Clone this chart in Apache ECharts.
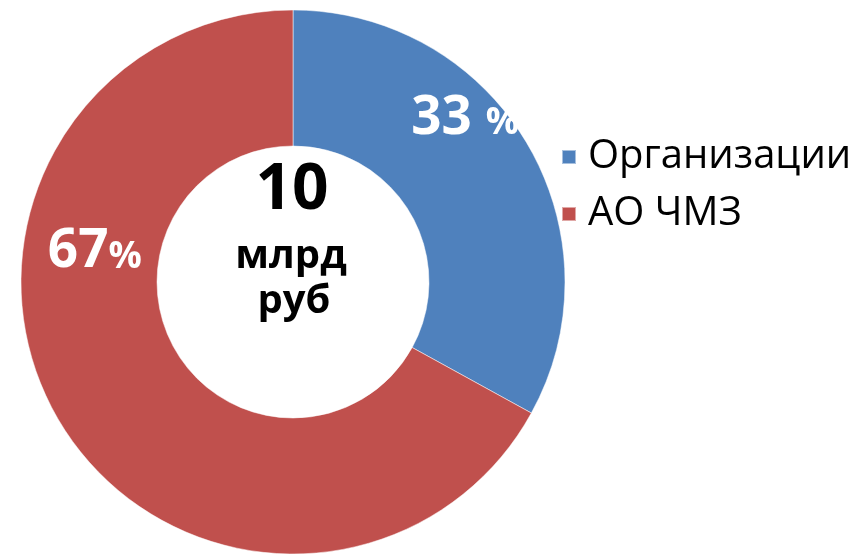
<!DOCTYPE html>
<html>
<head>
<meta charset="utf-8">
<script src="https://cdn.jsdelivr.net/npm/echarts@6/dist/echarts.min.js"></script>
<style>
  html, body { margin: 0; padding: 0; background: #fff; }
  #chart { width: 855px; height: 557px; }
</style>
</head>
<body>
<div id="chart"></div>
<script>
// данные
const categories = ['Организации', 'АО ЧМЗ']
const values = [33, 67]
const labelTexts = ['33 %', '67%']
const colors = ['#4F81BD', '#C0504D']
const centerLines = ['10', 'млрд', 'руб']

const chart = echarts.init(document.getElementById('chart'))

// подписи вручную смещены, как в оригинале
const labelOffsets = [[-6, -58], [-20, -135]]

const option = {
  animation: false,
  textStyle: { fontFamily: 'Open Sans' },
  legend: {
    orient: 'vertical',
    left: 556,
    top: 132,
    itemWidth: 14,
    itemHeight: 14,
    itemGap: 17,
    icon: 'rect',
    data: categories,
    textStyle: {
      fontFamily: 'Open Sans',
      fontSize: 40,
      color: '#000',
      padding: [0, 0, 0, 7]
    }
  },
  series: [
    {
      type: 'pie',
      center: [293, 282],
      radius: [136, 272],
      startAngle: 90,
      clockwise: true,
      silent: true,
      itemStyle: {
        borderColor: 'rgba(255,255,255,0.5)',
        borderWidth: 1
      },
      labelLine: { show: false },
      data: categories.map((name, i) => ({
        name: name,
        value: values[i],
        itemStyle: { color: colors[i] },
        label: {
          show: true,
          position: 'inside',
          offset: labelOffsets[i],
          formatter: () => {
            const t = labelTexts[i]
            const num = t.replace(/\s*%$/, '')
            const sp = t.indexOf(' %') >= 0 ? ' ' : ''
            return '{n|' + num + sp + '}{p|%}'
          },
          rich: {
            n: { fontFamily: 'Open Sans', fontWeight: 'bold', fontSize: 53, color: '#fff' },
            p: { fontFamily: 'Open Sans', fontWeight: 'bold', fontSize: 37, color: '#fff', padding: [10, 0, 0, 0] }
          }
        }
      }))
    }
  ]
}

// текст в центре кольца
option.graphic = [
  {
    type: 'text',
    x: 292, y: 191,
    style: {
      text: centerLines[0],
      fontFamily: 'Open Sans', fontWeight: 'bold', fontSize: 64,
      fill: '#000', textAlign: 'center', textVerticalAlign: 'middle'
    }
  },
  {
    type: 'text',
    x: 291, y: 257,
    style: {
      text: centerLines[1],
      fontFamily: 'Open Sans', fontWeight: 'bold', fontSize: 40,
      fill: '#000', textAlign: 'center', textVerticalAlign: 'middle'
    }
  },
  {
    type: 'text',
    x: 294, y: 302,
    style: {
      text: centerLines[2],
      fontFamily: 'Open Sans', fontWeight: 'bold', fontSize: 40,
      fill: '#000', textAlign: 'center', textVerticalAlign: 'middle'
    }
  }
]

chart.setOption(option)
</script>
</body>
</html>
